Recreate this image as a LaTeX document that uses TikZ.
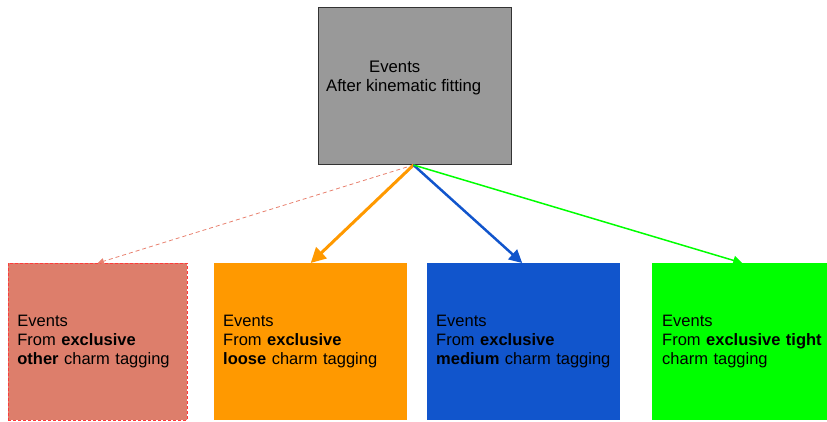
\documentclass[tikz,border=0pt]{standalone}
\usepackage{fontspec}
\setmainfont{Liberation Sans}
\usetikzlibrary{arrows.meta}
\definecolor{gfill}{HTML}{999999}
\definecolor{gdraw}{HTML}{333333}
\definecolor{rfill}{HTML}{DD7E6B}
\definecolor{rdraw}{HTML}{FF3B3B}
\definecolor{rline}{HTML}{E8806E}
\definecolor{ofill}{HTML}{FF9900}
\definecolor{bfill}{HTML}{1155CC}
\definecolor{gnfill}{HTML}{00FF00}
\tikzset{
  box/.style={rectangle, minimum width=#1, minimum height=157pt, inner xsep=9pt, inner ysep=0pt,
    text width=#1-18pt, align=left, font=\fontsize{16.5pt}{19pt}\selectfont, anchor=north west},
  conn/.style={-{Triangle[length=#1,width=#1]}},
}
\begin{document}
\begin{tikzpicture}[x=1pt,y=-1pt]
\useasboundingbox (0,0) rectangle (827,421);
\node[rectangle, fill=gfill, draw=gdraw, line width=1pt, minimum width=193pt, minimum height=157pt, anchor=north west, inner sep=0pt] (top) at (318,7) {};
\node[font=\fontsize{16.7pt}{19pt}\selectfont, align=left, inner sep=0pt, anchor=west] (toptext) at (326,78) {\hspace*{43pt}Events\\After kinematic fitting};
\node[box=179pt, fill=rfill, draw=rdraw, dash pattern=on 3pt off 2pt, line width=0.8pt] (other) at (8,263) {\mbox{Events}\\\mbox{From \textbf{exclusive}}\\\mbox{\textbf{other} charm tagging}};
\node[box=193pt, fill=ofill] (loose) at (214,263) {\mbox{Events}\\\mbox{From \textbf{exclusive}}\\\mbox{\textbf{loose} charm tagging}};
\node[box=193pt, fill=bfill] (medium) at (427,263) {\mbox{Events}\\\mbox{From \textbf{exclusive}}\\\mbox{\textbf{medium} charm tagging}};
\node[box=175pt, fill=gnfill, inner xsep=10pt, text width=155pt] (tight) at (652,263) {\mbox{Events}\\\mbox{From \textbf{exclusive tight}}\\\mbox{charm tagging}};
\coordinate (src) at ([xshift=-1.5pt]top.south);
\draw[conn=6pt, rline, line width=0.8pt, dash pattern=on 4pt off 3pt] (src) -- (other.north);
\draw[conn=15pt, ofill, line width=3pt] (src) -- (loose.north);
\draw[conn=13pt, bfill, line width=2.5pt] (src) -- ([xshift=-1.5pt]medium.north);
\draw[conn=9pt, gnfill, line width=1.5pt] (src) -- ([xshift=2.5pt]tight.north);
\end{tikzpicture}
\end{document}
